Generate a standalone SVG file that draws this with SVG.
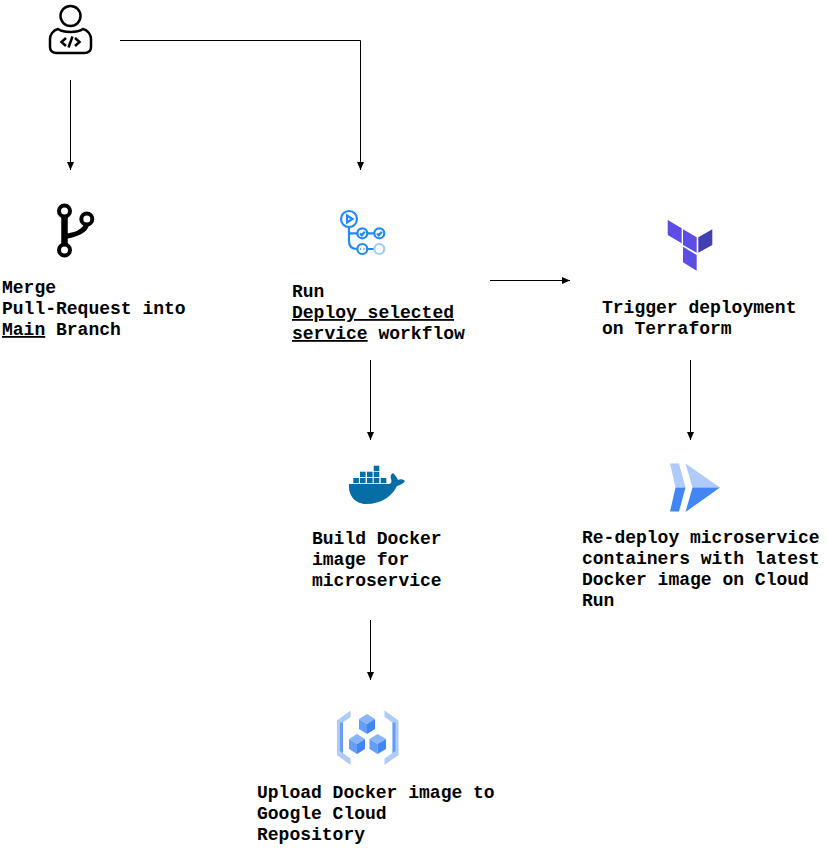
<svg xmlns="http://www.w3.org/2000/svg" width="827" height="857" viewBox="0 0 827 857">
<style>
.t{font-family:"Liberation Mono","Courier New",monospace;font-weight:bold;font-size:18px;fill:#000}
.c{fill:none;stroke:#000;stroke-width:1}
.u{text-decoration:underline}
</style>
<defs>
<marker id="a" markerWidth="9" markerHeight="8" refX="8" refY="4" orient="auto" markerUnits="userSpaceOnUse"><path d="M0 0.5L8 4L0 7.500Z" fill="#000"/></marker>
</defs>
<rect width="827" height="857" fill="#fff"/>
<g id="connectors">
<path class="c" marker-end="url(#a)" d="M70.500 80V170"/>
<path class="c" marker-end="url(#a)" d="M120 40.500H360.500V170"/>
<path class="c" marker-end="url(#a)" d="M490 280.500H570"/>
<path class="c" marker-end="url(#a)" d="M370.500 360V440"/>
<path class="c" marker-end="url(#a)" d="M690.500 360V440"/>
<path class="c" marker-end="url(#a)" d="M370.500 620V680"/>
</g>
<g id="developer" fill="none" stroke="#000" stroke-width="2.500">
<circle cx="70.500" cy="16" r="10"/>
<path d="M58 29C64 33 77 33 83 29C88 30 91 35 91 39V47C91 51 88 53 84 53H57C53 53 50 51 50 47V39C50 35 53 30 58 29Z"/>
<path d="M66 38L61.500 42L66 46M75 38L79.500 42L75 46M72.500 36.500L68.500 47.500"/>
</g>
<g id="merge">
<path d="M64.500 216V244" fill="none" stroke="#000" stroke-width="6.500"/>
<path d="M64.500 237C70 235 75 235 79 232.500C84 230 86.500 227 86.800 223" fill="none" stroke="#000" stroke-width="5"/>
<circle cx="64.500" cy="211" r="5.500" fill="#fff" stroke="#000" stroke-width="4"/>
<circle cx="86.800" cy="219" r="5.500" fill="#fff" stroke="#000" stroke-width="4"/>
<circle cx="64.500" cy="250" r="5.500" fill="#fff" stroke="#000" stroke-width="4"/>
<text class="t" x="2" y="293">Merge</text>
<text class="t" x="2" y="314">Pull-Request into</text>
<text class="t" x="2" y="335"><tspan class="u">Main</tspan> Branch</text>
</g>
<g id="workflow">
<g fill="none" stroke="#2088ff" stroke-width="2.200">
<circle cx="349" cy="219" r="8"/>
<path d="M347 215.500L352.500 219L347 222.500Z"/>
<path d="M349 227V241C349 246 352 249 357 249M349 233.300H357M367.500 233.300H374M367.500 249H374" />
<circle cx="362.300" cy="233.300" r="5"/>
<circle cx="379.300" cy="233.300" r="5"/>
<circle cx="362.300" cy="249" r="5"/>
<path d="M360 233.500L361.800 235.300L364.800 231.800M377 233.500L378.800 235.300L381.800 231.800"/>
<circle cx="379.300" cy="249" r="5" stroke="#9dcbff"/>
</g>
<circle cx="360.500" cy="249" r="0.800" fill="#2088ff"/>
<circle cx="364" cy="249" r="0.800" fill="#2088ff"/>
<text class="t" x="292" y="297">Run</text>
<text class="t u" x="292" y="318">Deploy selected</text>
<text class="t" x="292" y="339"><tspan class="u">service</tspan> workflow</text>
</g>
<g id="terraform">
<path d="M667.700 220L681.700 228.300V243.300L667.700 235Z" fill="#5c4ee5"/>
<path d="M683 229.300L696.700 237.300V252.700L683 245Z" fill="#5c4ee5"/>
<path d="M698.300 237.300L712.300 229.300V245L698.300 252.700Z" fill="#4040b2"/>
<path d="M683 246.700L696.700 255V270.700L683 262.300Z" fill="#5c4ee5"/>
<text class="t" x="602" y="313">Trigger deployment</text>
<text class="t" x="602" y="334">on Terraform</text>
</g>
<g id="docker">
<g fill="#066da5">
<path d="M349 484H388C391 484 392 482 391 479C390 476 391 474 393 473C395 475 397 477 398 480C400 479 403 479 405 481C403 484 400 485 397 486C392 496 382 504 366 504C355 504 348 495 349 484Z"/>
<rect x="353.300" y="478" width="5.600" height="5.200"/><rect x="360" y="478" width="5.600" height="5.200"/><rect x="367" y="478" width="5.600" height="5.200"/><rect x="373.700" y="478" width="5.600" height="5.200"/><rect x="380.700" y="478" width="5.600" height="5.200"/>
<rect x="360" y="471.700" width="5.600" height="5.300"/><rect x="367" y="471.700" width="5.600" height="5.300"/><rect x="373.700" y="471.700" width="5.600" height="5.300"/>
<rect x="373.700" y="465.700" width="5.600" height="5.300"/>
</g>
<text class="t" x="312" y="544">Build Docker</text>
<text class="t" x="312" y="565">image for</text>
<text class="t" x="312" y="586">microservice</text>
</g>
<g id="cloudrun">
<path d="M670 463.500H679L685.500 487.500H675.500Z" fill="#aecbfa"/>
<path d="M675.500 487.500H685.500L679 511.500H670Z" fill="#4285f4"/>
<path d="M685.500 463.500L720 487.500H692.500Z" fill="#aecbfa"/>
<path d="M692.500 487.500H720L685.500 512Z" fill="#4285f4"/>
<text class="t" x="582" y="543">Re-deploy microservice</text>
<text class="t" x="582" y="564">containers with latest</text>
<text class="t" x="582" y="585">Docker image on Cloud</text>
<text class="t" x="582" y="606">Run</text>
</g>
<g id="registry">
<path d="M337 720.500L350.500 710.500V717L343 722.500V753L350.500 758.500V765L337 755Z" fill="#aecbfa"/>
<path d="M398.500 720.500L384.500 710.500V717L392.500 722.500V753L384.500 758.500V765L398.500 755Z" fill="#aecbfa"/>
<path d="M340 722.500L343 722.500V753L340 751Z" fill="#669df6"/>
<path d="M395.500 722.500L392.500 722.500V753L395.500 751Z" fill="#669df6"/>
<path d="M359 719L367 714L375 719L367 724Z" fill="#8ab4f8"/>
<path d="M359 719L367 724V734L359 729Z" fill="#669df6"/>
<path d="M375 719L367 724V734L375 729Z" fill="#4285f4"/>
<path d="M349 739L357 734L365 739L357 744Z" fill="#8ab4f8"/>
<path d="M349 739L357 744V754L349 749Z" fill="#669df6"/>
<path d="M365 739L357 744V754L365 749Z" fill="#4285f4"/>
<path d="M369.500 739L377.500 734L386 739L377.500 744Z" fill="#8ab4f8"/>
<path d="M369.500 739L377.500 744V754L369.500 749Z" fill="#669df6"/>
<path d="M386 739L377.500 744V754L386 749Z" fill="#4285f4"/>
<text class="t" x="257" y="798">Upload Docker image to</text>
<text class="t" x="257" y="819">Google Cloud</text>
<text class="t" x="257" y="840">Repository</text>
</g>
</svg>
